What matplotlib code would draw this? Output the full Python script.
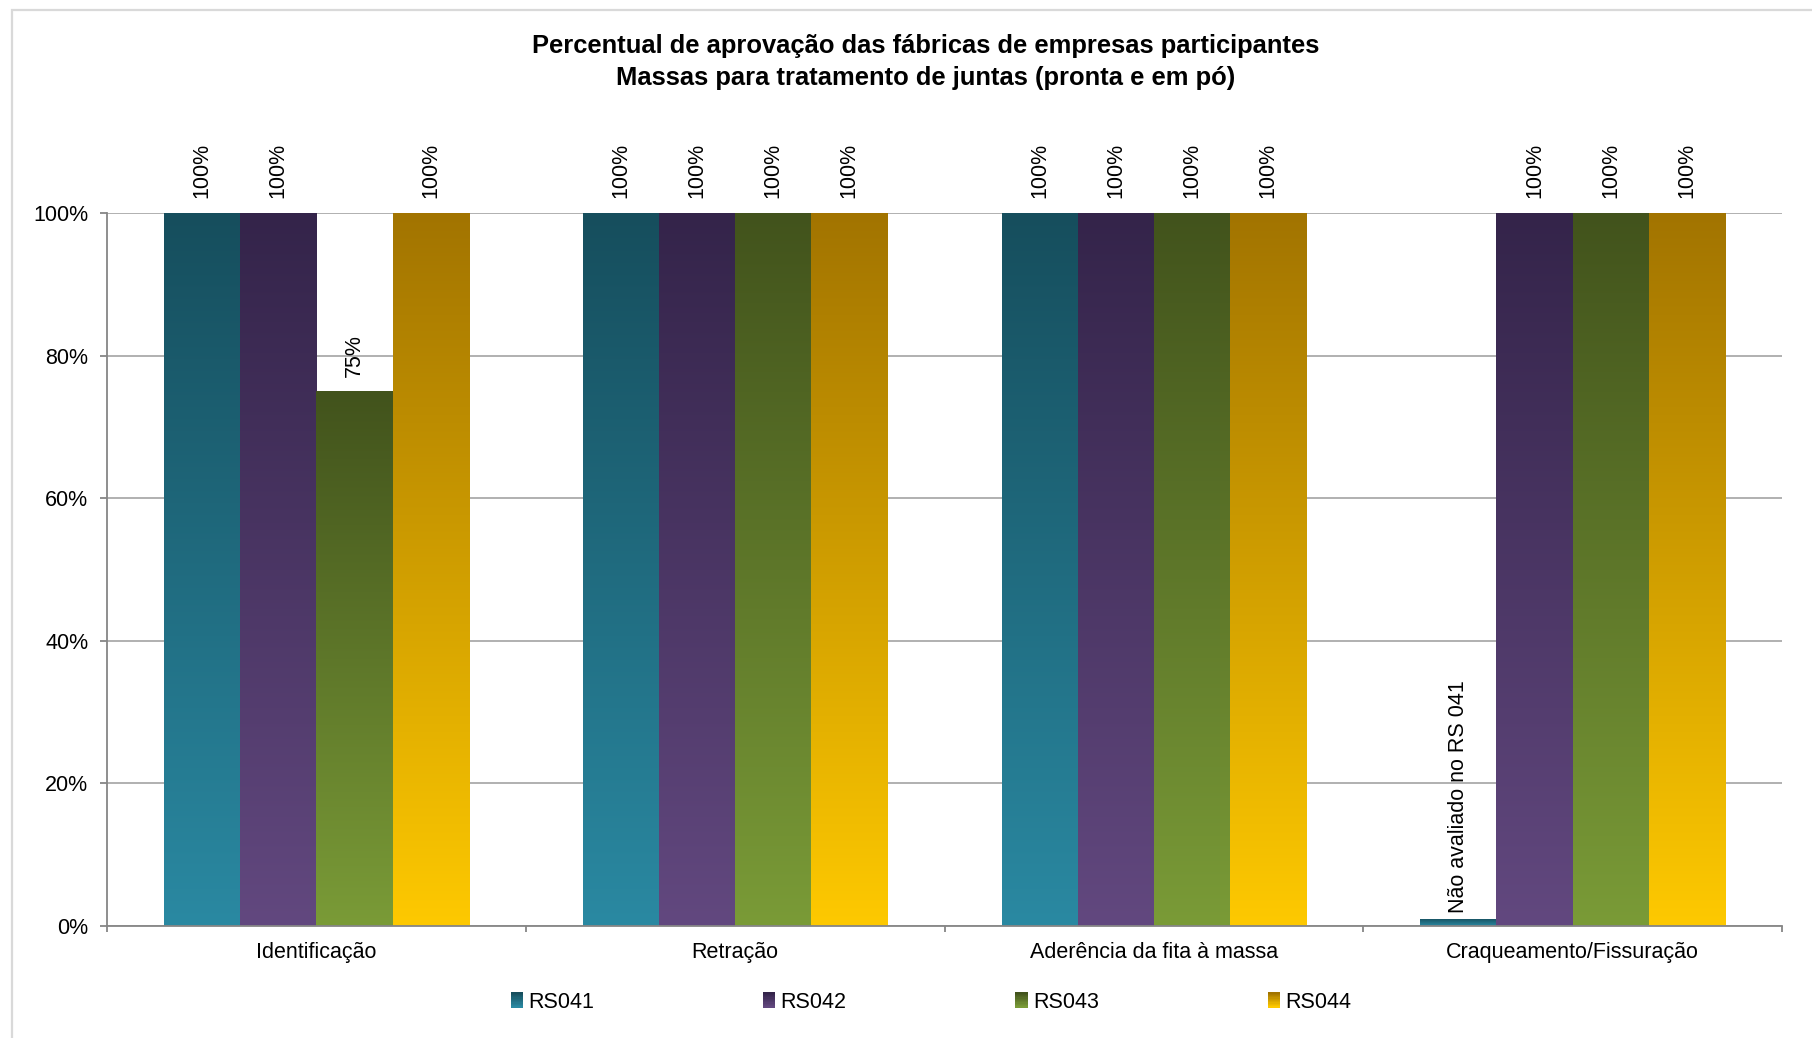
import numpy as np
import matplotlib
matplotlib.use("Agg")
import matplotlib.pyplot as plt
from matplotlib.colors import LinearSegmentedColormap
from matplotlib.patches import Rectangle
from matplotlib.legend_handler import HandlerBase
from matplotlib.ticker import FuncFormatter, FixedLocator

plt.rcParams['font.family'] = ['Liberation Sans', 'DejaVu Sans']

# ---------------- data ----------------
categories = ["Identificação", "Retração", "Aderência da fita à massa", "Craqueamento/Fissuração"]
series_names = ["RS041", "RS042", "RS043", "RS044"]
rs041 = [1.00, 1.00, 1.00, 0.01]
rs042 = [1.00, 1.00, 1.00, 1.00]
rs043 = [0.75, 1.00, 1.00, 1.00]
rs044 = [1.00, 1.00, 1.00, 1.00]
bar_labels_041 = ["100%", "100%", "100%", "Não avaliado no RS 041"]
bar_labels_042 = ["100%", "100%", "100%", "100%"]
bar_labels_043 = ["75%", "100%", "100%", "100%"]
bar_labels_044 = ["100%", "100%", "100%", "100%"]
title_line1 = "Percentual de aprovação das fábricas de empresas participantes"
title_line2 = "Massas para tratamento de juntas (pronta e em pó)"
y_ticks = [0, 0.2, 0.4, 0.6, 0.8, 1.0]

series_values = [rs041, rs042, rs043, rs044]
series_labels = [bar_labels_041, bar_labels_042, bar_labels_043, bar_labels_044]
# (bottom colour, top colour)
grad_colors = [("#2a89a2", "#164e5d"),
               ("#62487f", "#34244a"),
               ("#7a9b37", "#42531c"),
               ("#fec900", "#a27400")]

FS = 15.5

W, H = 1812, 1038
fig = plt.figure(figsize=(W / 100, H / 100), dpi=100)
fig.patch.set_facecolor("white")
ax = fig.add_axes([107 / W, 1 - 926 / H, (1782 - 107) / W, (926 - 213) / H])

# outer chart border (only top and left visible)
fig.patches.append(Rectangle((12 / W, -0.2), 1.5, 1 - 9.5 / H + 0.2,
                             transform=fig.transFigure, fill=False,
                             edgecolor="#d9d9d9", lw=1.6, zorder=0))

n_series = len(series_values)
gap = 1.5
bw = 1.0 / (n_series + gap)
x = np.arange(len(categories))

grad = np.linspace(0, 1, 256).reshape(256, 1)
for j, (vals, labs, (cb, ct)) in enumerate(zip(series_values, series_labels, grad_colors)):
    cmap = LinearSegmentedColormap.from_list(f"g{j}", [cb, ct])
    pos = x + (j - (n_series - 1) / 2) * bw
    bars = ax.bar(pos, vals, width=bw, color=cmap(0.5), edgecolor="none",
                  zorder=2, label=series_names[j])
    for b, v, lab in zip(bars, vals, labs):
        x0 = b.get_x()
        im = ax.imshow(grad, cmap=cmap, origin="lower", aspect="auto",
                       extent=[x0, x0 + b.get_width(), 0, v], zorder=2.5,
                       interpolation="bilinear")
        im.set_clip_path(b)
        off = 10.5 if lab.endswith("%") else 4
        ax.annotate(lab, xy=(b.get_x() + b.get_width() / 2, v),
                    xytext=(0, off), textcoords="offset points",
                    rotation=90, ha="center", va="bottom", fontsize=FS,
                    color="black", annotation_clip=False)

ax.set_xlim(-0.5, len(categories) - 0.5)
ax.set_ylim(0, 1.0)

# axes styling
for s in ["top", "right"]:
    ax.spines[s].set_visible(False)
for s in ["left", "bottom"]:
    ax.spines[s].set_color("#868686")
    ax.spines[s].set_linewidth(1.3)

ax.set_yticks(y_ticks)
ax.yaxis.set_major_formatter(FuncFormatter(lambda v, p: f"{v * 100:.0f}%"))
ax.tick_params(axis="y", length=5, width=1.3, color="#868686", pad=8.5,
               labelsize=FS, labelcolor="black")
ax.yaxis.grid(True, color="#a3a3a3", lw=1.2)
ax.set_axisbelow(True)

ax.xaxis.set_major_locator(FixedLocator(np.arange(-0.5, len(categories), 1.0)))
ax.set_xticklabels([])
ax.xaxis.set_minor_locator(FixedLocator(x))
ax.set_xticks(x, categories, minor=True)
ax.tick_params(axis="x", which="major", length=4.5, width=1.3, color="#868686")
ax.tick_params(axis="x", which="minor", length=0, pad=11.5, labelsize=FS,
               labelcolor="black")

# title
fig.text(926 / W, 1 - 45.5 / H, title_line1, ha="center", va="center",
         fontsize=18.4, fontweight="bold")
fig.text(926 / W, 1 - 77.5 / H, title_line2, ha="center", va="center",
         fontsize=18.4, fontweight="bold")


# legend with gradient squares
class GradHandler(HandlerBase):
    def __init__(self, cb, ct):
        super().__init__()
        self.cmap = LinearSegmentedColormap.from_list("lg", [cb, ct])

    def create_artists(self, legend, orig_handle, xdescent, ydescent,
                       width, height, fontsize, trans):
        n = 12
        arts = []
        for k in range(n):
            r = Rectangle((-xdescent, -ydescent + height * k / n), width,
                          height / n + 0.3, facecolor=self.cmap(k / (n - 1)),
                          edgecolor="none", transform=trans)
            arts.append(r)
        return arts


handles = [Rectangle((0, 0), 1, 1) for _ in series_names]
hmap = {h: GradHandler(cb, ct) for h, (cb, ct) in zip(handles, grad_colors)}
leg = fig.legend(handles, series_names, handler_map=hmap, loc="center",
                 bbox_to_anchor=(931 / W, 1 - 1002 / H), ncol=4, frameon=False,
                 fontsize=FS, handlelength=0.56, handleheight=0.7,
                 handletextpad=0.25, columnspacing=7.85)

fig.savefig("out.png", dpi=100, facecolor="white")
